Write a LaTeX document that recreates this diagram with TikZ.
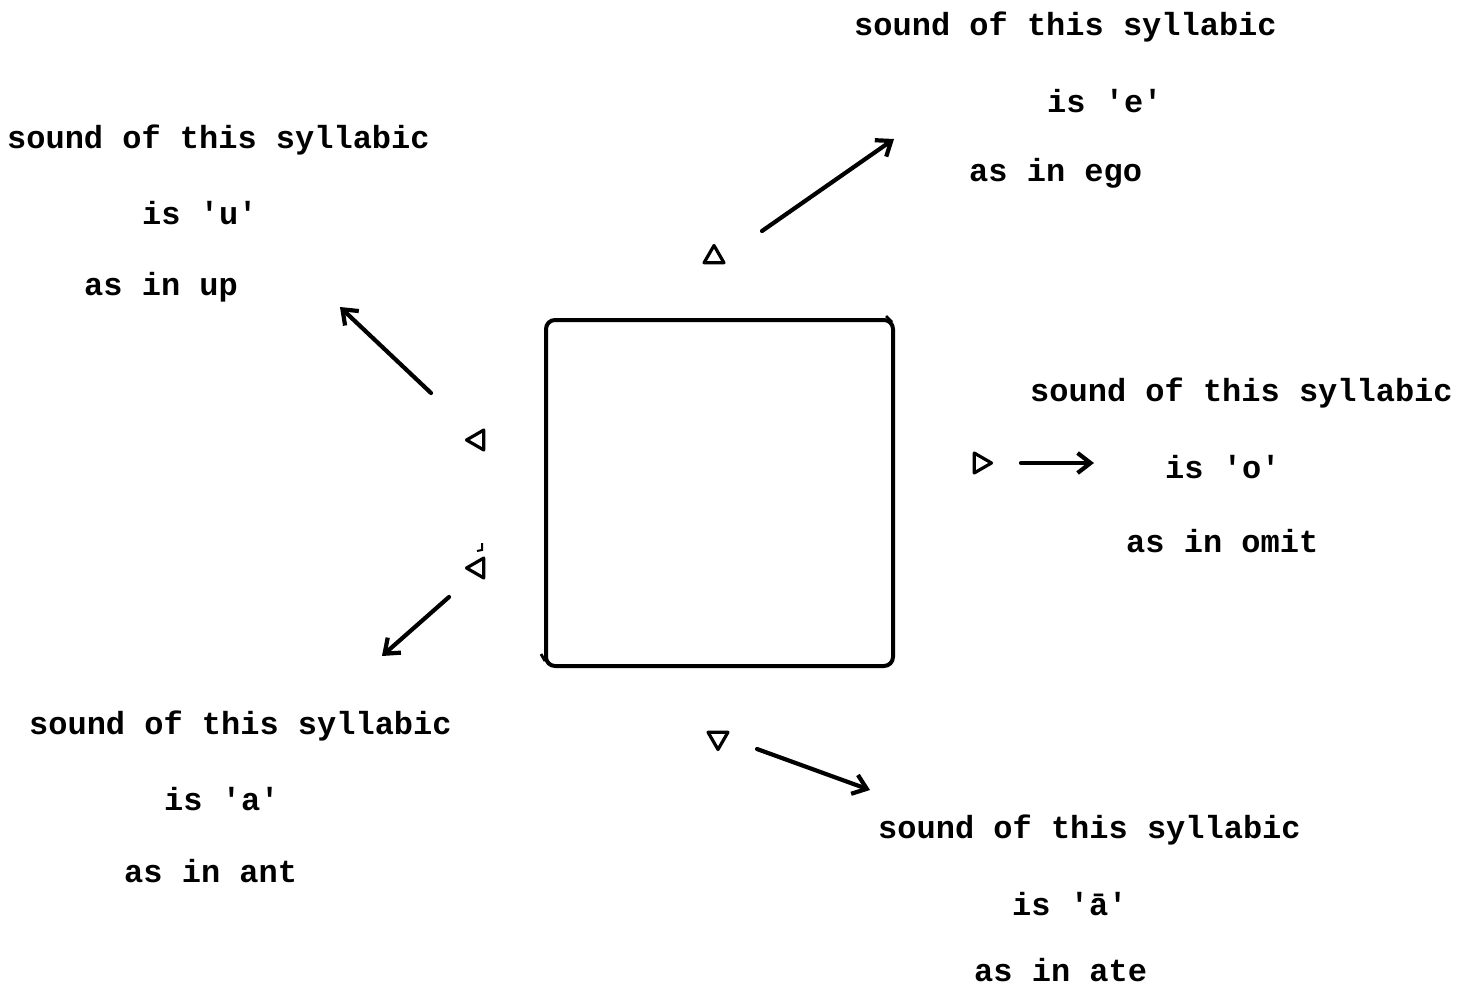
\documentclass[tikz,border=0pt]{standalone}
\usepackage{fontspec}
\setmonofont{Liberation Mono}
\usetikzlibrary{arrows.meta,shapes.geometric}
\tikzset{
  txt/.style={font=\ttfamily\bfseries\fontsize{32}{36}\selectfont, inner sep=0pt, anchor=west, xshift=2pt, yshift=-3pt},
  tri/.style={draw, regular polygon, regular polygon sides=3, minimum size=23pt, inner sep=0pt, line width=3.2pt, line join=round},
  arr/.style={line width=4.2pt, line cap=round, -{Straight Barb[length=13pt,width=20pt,line width=4.2pt]}},
  box/.style={draw, line width=4pt, rounded corners=9pt}
}
\begin{document}
\begin{tikzpicture}[x=1pt,y=-1pt]
\useasboundingbox (0,0) rectangle (1473,990);
% central square
\draw[box] (546,320) rectangle (893,666);
\draw[line width=2.8pt] (886,316) -- (892,322);
\draw[line width=2.8pt] (541,654) -- (545,661);
% triangles
\node[tri] (tU) at (714,257) {};
\node[tri, shape border rotate=90] (tL1) at (478,440) {};
\node[tri, shape border rotate=90] (tL2) at (478,568) {};
\node[tri, shape border rotate=-90] (tR) at (980,463) {};
\node[tri, shape border rotate=180] (tD) at (718,738) {};
\draw[line width=2pt] (482,543) -- (482,550) -- (477,551);
% arrow end coordinates
\coordinate (aUs) at (762,231); \coordinate (aUe) at (894,139);
\coordinate (aL1s) at (431,393); \coordinate (aL1e) at (340,307);
\coordinate (aL2s) at (449,597); \coordinate (aL2e) at (382,656);
\coordinate (aRs) at (1021,463); \coordinate (aRe) at (1094,463);
\coordinate (aDs) at (757,749); \coordinate (aDe) at (870,790);
\draw[arr] (aUs) -- (aUe);
\draw[arr] (aL1s) -- (aL1e);
\draw[arr] (aL2s) -- (aL2e);
\draw[arr] (aRs) -- (aRe);
\draw[arr] (aDs) -- (aDe);
% top-left text
\node[txt] (u1) at (5,137) {sound of this syllabic};
\node[txt] (u2) at (140,210) {is 'u'};
\node[txt] (u3) at (82,284) {as in up};
% top-right text
\node[txt] (e1) at (852,24) {sound of this syllabic};
\node[txt] (e2) at (1045,98) {is 'e'};
\node[txt] (e3) at (967,170) {as in ego};
% right text
\node[txt] (o1) at (1028,390) {sound of this syllabic};
\node[txt] (o2) at (1163,464) {is 'o'};
\node[txt] (o3) at (1124,538) {as in omit};
% bottom-left text
\node[txt] (a1) at (27,723) {sound of this syllabic};
\node[txt] (a2) at (162,796) {is 'a'};
\node[txt] (a3) at (122,868) {as in ant};
% bottom-right text
\node[txt] (b1) at (876,827) {sound of this syllabic};
\node[txt] (b2) at (1010,901) {is 'ā'};
\node[txt, yshift=3pt] (b3) at (972,970) {as in ate};
\end{tikzpicture}
\end{document}
